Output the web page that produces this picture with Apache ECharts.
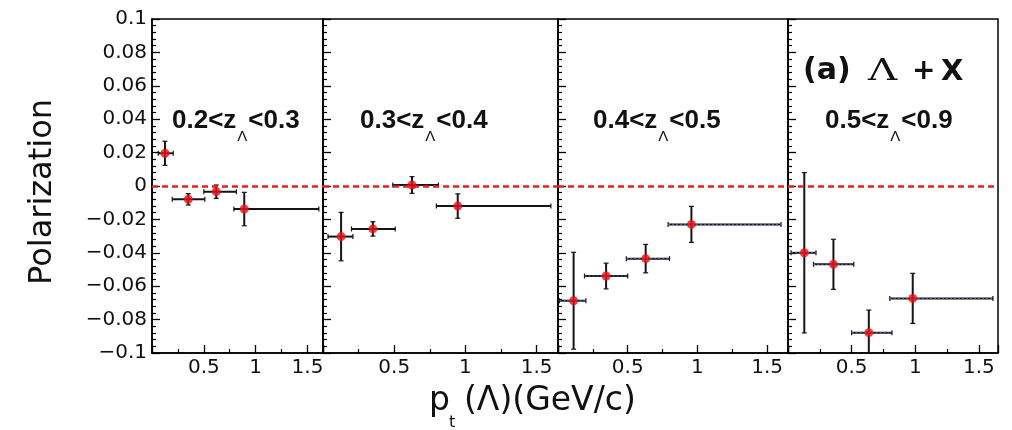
<!DOCTYPE html>
<html><head><meta charset="utf-8">
<script src="https://cdn.jsdelivr.net/npm/echarts@6/dist/echarts.min.js"></script>
<style>html,body{margin:0;padding:0;background:#fff}#c{width:1012px;height:430px}</style>
</head><body><div id="c"></div>
<script>
// ---- data ----
const zLow  = ['0.2', '0.3', '0.4', '0.5'];
const zHigh = ['0.3', '0.4', '0.5', '0.9'];
const ptMean = [
  [0.125, 0.350, 0.620, 0.890],
  [0.127, 0.350, 0.625, 0.946],
  [0.112, 0.345, 0.629, 0.957],
  [0.128, 0.357, 0.635, 0.980]
];
const ptLow = [
  [0.060, 0.195, 0.500, 0.790],
  [0.035, 0.200, 0.490, 0.796],
  [0.010, 0.190, 0.490, 0.790],
  [0.024, 0.200, 0.500, 0.800]
];
const ptHigh = [
  [0.205, 0.510, 0.814, 1.610],
  [0.210, 0.507, 0.810, 1.600],
  [0.200, 0.500, 0.800, 1.600],
  [0.220, 0.517, 0.817, 1.610]
];
const polValue = [
  [0.0196, -0.0080, -0.0034, -0.0138],
  [-0.0303, -0.0257, 0.0006, -0.0120],
  [-0.0687, -0.0539, -0.0435, -0.0230],
  [-0.0400, -0.0469, -0.0878, -0.0673]
];
const polError = [
  [0.0072, 0.0034, 0.0040, 0.0100],
  [0.0145, 0.0043, 0.0050, 0.0073],
  [0.0290, 0.0077, 0.0085, 0.0108],
  [0.0480, 0.0150, 0.0135, 0.0150]
];
const yMin = -0.1, yMax = 0.1, yStep = 0.02;
const xMin = 0, xMax = 1.65, xStep = 0.5;

// ---- layout ----
const gridLeft  = [152, 323, 558, 788];
const gridWidth = [171, 235, 230, 210];
const gridTop = 19, gridHeight = 334;
const labelX = [172, 360, 593, 825];

const mctx = document.createElement('canvas').getContext('2d');
function tw(t, f) { mctx.font = f; return mctx.measureText(t).width; }

const chart = echarts.init(document.getElementById('c'), null, {renderer: 'canvas'});

const grids = [], xAxes = [], yAxes = [], series = [];
for (let p = 0; p < 4; p++) {
  grids.push({left: gridLeft[p], top: gridTop, width: gridWidth[p], height: gridHeight,
    show: true, borderColor: '#000', borderWidth: 1.5, backgroundColor: 'transparent'});
  xAxes.push({
    type: 'value', gridIndex: p, min: xMin, max: xMax, interval: xStep,
    axisLine: {show: true, onZero: false, lineStyle: {color: '#000', width: 1.5}},
    axisTick: {show: true, inside: true, length: 8, lineStyle: {color: '#000', width: 1.3}},
    minorTick: {show: true, splitNumber: 2, length: 4, lineStyle: {color: '#000', width: 1.2}},
    splitLine: {show: false},
    axisLabel: {show: true, margin: 5, fontSize: 20, fontFamily: 'DejaVu Sans', color: '#111',
      formatter: v => (Math.abs(v) < 1e-9 || Math.abs(v - xMax) < 1e-6) ? '' : String(+(+v).toFixed(2))}
  });
  yAxes.push({
    type: 'value', gridIndex: p, min: yMin, max: yMax, interval: yStep,
    axisLine: {show: true, onZero: false, lineStyle: {color: '#000', width: 1.5}},
    axisTick: {show: true, inside: true, length: 8, lineStyle: {color: '#000', width: 1.3}},
    minorTick: {show: true, splitNumber: 5, length: 4, lineStyle: {color: '#000', width: 1.2}},
    splitLine: {show: false},
    axisLabel: {show: p === 0, margin: 5, fontSize: 20, fontFamily: 'DejaVu Sans', color: '#111',
      formatter: v => String(+(+v).toFixed(2)).replace('-', '\u2212')}
  });

  const errData = ptMean[p].map((x, i) => [x, polValue[p][i], ptLow[p][i], ptHigh[p][i], polError[p][i]]);
  const pointData = ptMean[p].map((x, i) => [x, polValue[p][i]]);
  const dotted = p >= 2;
  series.push({
    type: 'custom', xAxisIndex: p, yAxisIndex: p, z: 3, silent: true,
    encode: {x: 0, y: 1},
    data: errData,
    renderItem: function (params, api) {
      const x = api.value(0), y = api.value(1), lo = api.value(2), hi = api.value(3), e = api.value(4);
      const up = Math.min(yMax, y + e), dn = Math.max(yMin, y - e);
      const a = api.coord([lo, y]), b = api.coord([hi, y]);
      const t = api.coord([x, up]), d = api.coord([x, dn]);
      const st = {stroke: '#151515', lineWidth: 2};
      const cap = 2.5;
      const ch = [
        {type: 'line', shape: {x1: a[0], y1: a[1], x2: b[0], y2: b[1]}, style: st},
        {type: 'line', shape: {x1: t[0], y1: t[1], x2: d[0], y2: d[1]}, style: st},
        {type: 'line', shape: {x1: a[0], y1: a[1] - cap, x2: a[0], y2: a[1] + cap}, style: {stroke: '#151515', lineWidth: 1.2}},
        {type: 'line', shape: {x1: b[0], y1: b[1] - cap, x2: b[0], y2: b[1] + cap}, style: {stroke: '#151515', lineWidth: 1.2}}
      ];
      if (y + e < yMax) ch.push({type: 'line', shape: {x1: t[0] - cap, y1: t[1], x2: t[0] + cap, y2: t[1]}, style: {stroke: '#151515', lineWidth: 1.2}});
      if (y - e > yMin) ch.push({type: 'line', shape: {x1: d[0] - cap, y1: d[1], x2: d[0] + cap, y2: d[1]}, style: {stroke: '#151515', lineWidth: 1.2}});
      if (dotted) ch.push({type: 'line', shape: {x1: a[0], y1: a[1], x2: b[0], y2: b[1]}, style: {stroke: '#5866b8', lineWidth: 1, lineDash: [2, 2]}});
      return {type: 'group', children: ch};
    }
  });
  series.push({
    type: 'scatter', xAxisIndex: p, yAxisIndex: p, z: 5, silent: true,
    symbol: 'circle', symbolSize: 9,
    itemStyle: {color: '#ec1018'},
    data: pointData,
    markLine: {
      silent: true, symbol: ['none', 'none'], animation: false,
      label: {show: false},
      lineStyle: {color: '#e8201e', type: [6, 4], width: 2.5},
      data: [{yAxis: 0}]
    }
  });
}

// ---- texts ----
const graphics = [];
const txt = (x, y, text, font, extra) => Object.assign({
  type: 'text', x: x, y: y, silent: true,
  style: {text: text, font: font, fill: '#111', align: 'left', verticalAlign: 'middle',
          textAlign: 'left', textVerticalAlign: 'middle'}
}, extra || {});

const mainFont = 'bold 26px "Liberation Sans"';
const subFont = '15px "Liberation Sans"';
for (let p = 0; p < 4; p++) {
  const s1 = zLow[p] + '<z', s2 = '\u039B', s3 = '<' + zHigh[p];
  const w1 = tw(s1, mainFont), w2 = tw(s2, subFont);
  graphics.push(txt(labelX[p], 121, s1, mainFont));
  graphics.push(txt(labelX[p] + w1 + 1, 137, s2, subFont));
  graphics.push(txt(labelX[p] + w1 + w2 + 2, 121, s3, mainFont));
}
// (a) Λ + X
graphics.push(txt(803, 71, '(a)', 'bold 30px "DejaVu Sans"'));
graphics.push(Object.assign(txt(868, 72, '\u039B', '30px "DejaVu Serif"'), {scaleX: 1.35}));
graphics.push(txt(912, 72, '+', 'bold 28px "DejaVu Sans"'));
graphics.push(txt(941, 72, 'X', 'bold 29px "DejaVu Sans"'));

// y title
graphics.push({type: 'text', x: 43, y: 192, rotation: Math.PI / 2, silent: true,
  style: {text: 'Polarization', font: '32px "DejaVu Sans"', fill: '#111',
          align: 'center', verticalAlign: 'middle', textAlign: 'center', textVerticalAlign: 'middle'}});
// x title: p_t(Λ)(GeV/c)
const xtFont = '33px "DejaVu Sans"';
graphics.push(txt(429, 401, 'p', xtFont));
graphics.push(txt(429 + tw('p', xtFont) - 1, 423, 't', '16px "DejaVu Sans"'));
graphics.push(txt(464, 401, '(\u039B)(GeV/c)', xtFont));

chart.setOption({
  animation: false,
  backgroundColor: '#fff',
  grid: grids, xAxis: xAxes, yAxis: yAxes, series: series,
  graphic: {elements: graphics}
});
</script></body></html>
